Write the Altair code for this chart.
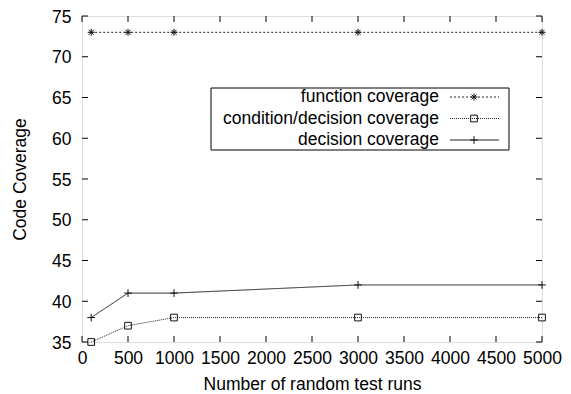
import altair as alt
import pandas as pd

runs = [100, 500, 1000, 3000, 5000]
function_cov = [73, 73, 73, 73, 73]
cond_dec_cov = [35, 37, 38, 38, 38]
decision_cov = [38, 41, 41, 42, 42]
series_names = ["function coverage", "condition/decision coverage", "decision coverage"]
x_ticks = [0, 500, 1000, 1500, 2000, 2500, 3000, 3500, 4000, 4500, 5000]
y_ticks = [35, 40, 45, 50, 55, 60, 65, 70, 75]

W, H = 460, 326
FONT = "Liberation Sans"
FS = 17.5

xs = alt.Scale(domain=[0, 5000], nice=False, zero=False)
ys = alt.Scale(domain=[35, 75], nice=False, zero=False)

ASTER = "M-1,0L1,0M0,-1L0,1M-0.7,-0.7L0.7,0.7M-0.7,0.7L0.7,-0.7"
PLUS = "M-1,0L1,0M0,-1L0,1"

styles = [
    dict(vals=function_cov, dash=[2, 2], shape=ASTER, size=50),
    dict(vals=cond_dec_cov, dash=[1, 1], shape="square", size=45),
    dict(vals=decision_cov, dash=[1, 0], shape=PLUS, size=60),
]

x_axis = alt.Axis(values=x_ticks, ticks=False, domain=False, grid=False, format="d",
                  labelOverlap=False, labelFlush=False,
                  labelFont=FONT, labelFontSize=FS, labelColor="black",
                  labelPadding=7, title="Number of random test runs",
                  titleFont=FONT, titleFontSize=FS, titleFontWeight="normal",
                  titleColor="black", titlePadding=9)
y_axis = alt.Axis(values=y_ticks, ticks=False, domain=False, grid=False, format="d",
                  labelOverlap=False, labelFlush=False, labelOffset=1,
                  labelFont=FONT, labelFontSize=FS, labelColor="black",
                  labelPadding=11, title="Code Coverage",
                  titleFont=FONT, titleFontSize=FS, titleFontWeight="normal",
                  titleColor="black", titlePadding=22)


def X(field):
    return alt.X(field, scale=xs, axis=x_axis)


def Y(field):
    return alt.Y(field, scale=ys, axis=y_axis)


layers = []
for name, st in zip(series_names, styles):
    df = pd.DataFrame({"runs": runs, "cov": st["vals"], "series": name})
    base = alt.Chart(df)
    layers.append(base.mark_line(color="#222", strokeWidth=1, strokeDash=st["dash"], clip=False)
                  .encode(x=X("runs:Q"), y=Y("cov:Q")))
    layers.append(base.mark_point(shape=st["shape"], size=st["size"], filled=False,
                                  color="#111", strokeWidth=1, opacity=1, clip=False)
                  .encode(x=X("runs:Q"), y=Y("cov:Q")))

xt = alt.Chart(pd.DataFrame({"t": x_ticks}))
yt = alt.Chart(pd.DataFrame({"t": y_ticks}))
tick_len = 6
layers += [
    xt.mark_rule(color="black", strokeWidth=1).encode(x=X("t:Q"), y=alt.value(H), y2=alt.value(H - tick_len)),
    xt.mark_rule(color="black", strokeWidth=1).encode(x=X("t:Q"), y=alt.value(0), y2=alt.value(tick_len)),
    yt.mark_rule(color="black", strokeWidth=1).encode(y=Y("t:Q"), x=alt.value(0), x2=alt.value(tick_len)),
    yt.mark_rule(color="black", strokeWidth=1).encode(y=Y("t:Q"), x=alt.value(W), x2=alt.value(W - tick_len)),
]

# legend (gnuplot style: label left, sample right)
box_l, box_r, box_t, box_b = 129, 427, 72, 134
text_r = 357
row_y = [81, 102.5, 124]
leg_df = pd.DataFrame({"name": series_names})
layers.append(alt.Chart(leg_df.iloc[:1]).mark_rect(fill="white", stroke="black", strokeWidth=1)
              .encode(x=alt.value(box_l), x2=alt.value(box_r), y=alt.value(box_t), y2=alt.value(box_b)))
for i, st in enumerate(styles):
    row = alt.Chart(leg_df.iloc[i:i + 1])
    layers.append(row.mark_text(align="right", baseline="middle", font=FONT, fontSize=FS, color="black")
                  .encode(text="name:N", x=alt.value(text_r), y=alt.value(row_y[i])))
    layers.append(row.mark_rule(color="#222", strokeWidth=1, strokeDash=st["dash"])
                  .encode(x=alt.value(368), x2=alt.value(417), y=alt.value(row_y[i])))
    layers.append(row.mark_point(shape=st["shape"], size=st["size"], filled=False, color="#111",
                                 strokeWidth=1, opacity=1)
                  .encode(x=alt.value(392), y=alt.value(row_y[i])))

chart = alt.layer(*layers).properties(
    width=W, height=H,
    autosize=alt.AutoSizeParams(type="none"),
    padding={"left": 74, "top": 8, "right": 21, "bottom": 52},
).configure_view(stroke="black", strokeWidth=1).configure(background="white")

chart.save("out.html", embed_options={"renderer": "svg", "actions": False})
